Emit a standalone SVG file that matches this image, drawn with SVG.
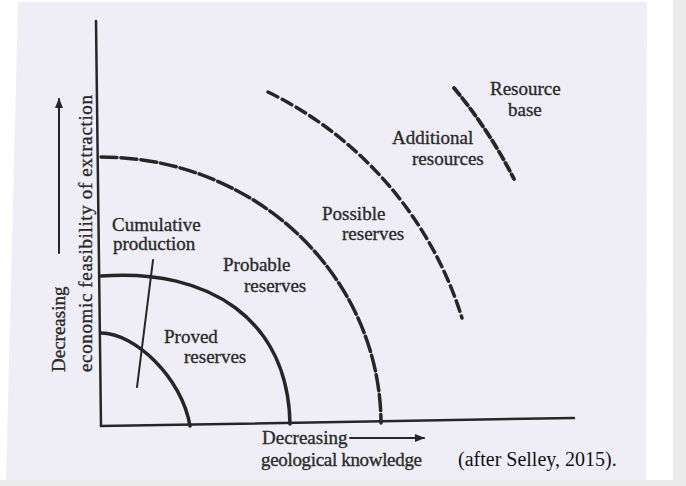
<svg xmlns="http://www.w3.org/2000/svg" width="686" height="486" viewBox="0 0 686 486">
  <style>
    .ln { fill: none; stroke: #262626; stroke-linecap: round; }
    .lbl { font-family: "Liberation Serif", "Times New Roman", serif; font-size: 19px; fill: #2a2a2a; stroke: #2a2a2a; stroke-width: 0.35; }
    .cap { font-family: "Liberation Serif", "Times New Roman", serif; font-size: 20px; fill: #111; }
  </style>
  <defs>
    <marker id="ah" viewBox="0 0 10 10" refX="9" refY="5" markerWidth="10" markerHeight="10" markerUnits="userSpaceOnUse" orient="auto">
      <path d="M0,1 L10,5 L0,9 Z" fill="#262626"/>
    </marker>
  </defs>
  <rect x="0" y="0" width="686" height="486" fill="#ebebeb"/>
  <rect x="0" y="0" width="673" height="480" fill="#ffffff"/>
  <polygon points="18,2 647,2 646,480 6,480" fill="#efeef6"/>

  <g id="axes">
    <path class="ln" d="M96,21 L101,426 L574,418" stroke-width="2.5"/>
  </g>

  <g id="proved-boundary">
    <path class="ln" d="M101,333 C135,333 182,378 190,426" stroke-width="3.5"/>
  </g>
  <g id="probable-boundary">
    <path class="ln" d="M101,276 C210,268 288,320 290,424" stroke-width="3.5"/>
  </g>
  <g id="possible-boundary">
    <path class="ln" d="M101,157 A280 267 0 0 1 381,423" stroke-width="3.5" stroke-dasharray="16 4" stroke-linecap="butt"/>
  </g>
  <g id="additional-boundary">
    <path class="ln" d="M268,92 A375 375 0 0 1 462,318" stroke-width="3.5" stroke-dasharray="11 5" stroke-linecap="butt"/>
  </g>
  <g id="resource-base-boundary">
    <path class="ln" d="M454,88 A485 485 0 0 1 514,179" stroke-width="3.8" stroke-dasharray="9 4" stroke-linecap="butt"/>
  </g>

  <g id="connectors">
    <path class="ln" d="M153,260 L137,387" stroke-width="2"/>
    <path class="ln" d="M59,253 L59,99" stroke-width="2" marker-end="url(#ah)"/>
    <path class="ln" d="M350,438 L424,438" stroke-width="2" marker-end="url(#ah)"/>
  </g>

  <g id="cumulative-production">
    <text class="lbl" x="112" y="231">Cumulative</text>
    <text class="lbl" x="113" y="250">production</text>
  </g>
  <g id="proved-reserves">
    <text class="lbl" x="164" y="343">Proved</text>
    <text class="lbl" x="184" y="363">reserves</text>
  </g>
  <g id="probable-reserves">
    <text class="lbl" x="223" y="271">Probable</text>
    <text class="lbl" x="244" y="292">reserves</text>
  </g>
  <g id="possible-reserves">
    <text class="lbl" x="322" y="220">Possible</text>
    <text class="lbl" x="342" y="240">reserves</text>
  </g>
  <g id="additional-resources">
    <text class="lbl" x="392" y="144">Additional</text>
    <text class="lbl" x="412" y="165">resources</text>
  </g>
  <g id="resource-base">
    <text class="lbl" x="490" y="95">Resource</text>
    <text class="lbl" x="508" y="116">base</text>
  </g>
  <g id="y-axis-label">
    <text class="lbl" transform="translate(65,372) rotate(-90)" x="0" y="0">Decreasing</text>
    <text class="lbl" transform="translate(92,372) rotate(-90)" x="0" y="0" textLength="277">economic feasibility of extraction</text>
  </g>
  <g id="x-axis-label">
    <text class="lbl" x="262" y="444">Decreasing</text>
    <text class="lbl" x="261" y="466" textLength="161">geological knowledge</text>
  </g>
  <g id="citation">
    <text class="cap" x="458" y="466">(after Selley, 2015).</text>
  </g>
</svg>
